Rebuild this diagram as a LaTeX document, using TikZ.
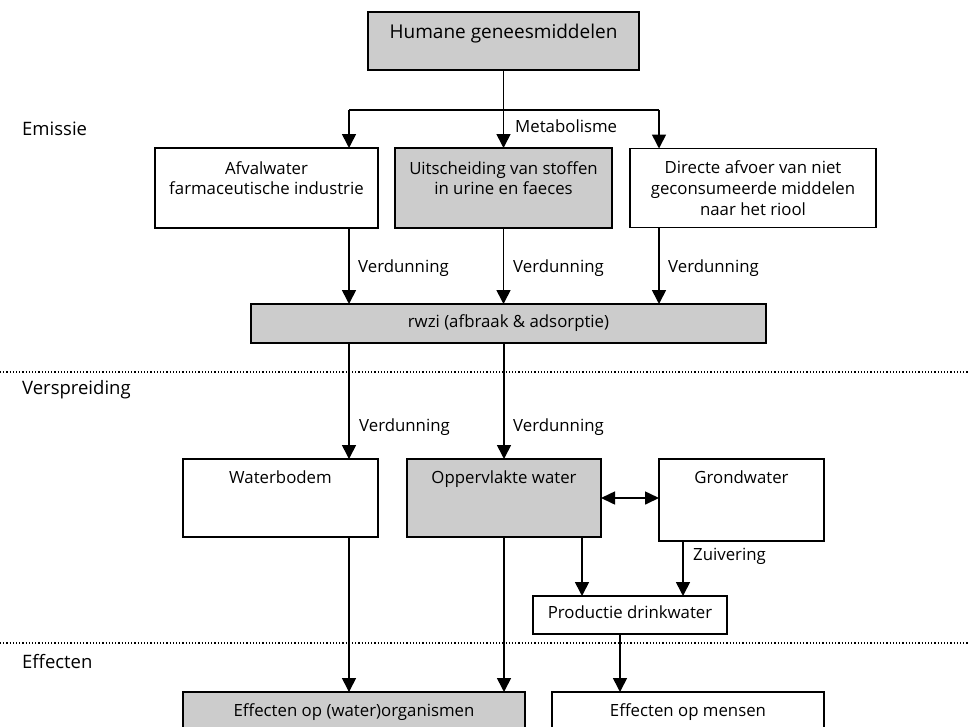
\documentclass[tikz,border=0pt]{standalone}
\usepackage{fontspec}
\setmainfont{Open Sans}
\usetikzlibrary{arrows.meta}
\begin{document}
\begin{tikzpicture}[x=1pt,y=-1pt,
  box/.style={draw=black, line width=1.6pt, inner sep=0pt, outer sep=0pt},
  gbox/.style={box, fill=black!20},
  txt/.style={font=\fontsize{16.8}{20.8}\selectfont, align=center, inner sep=0pt, anchor=north},
  lbl/.style={font=\fontsize{16.8}{19}\selectfont, inner sep=0pt, anchor=west},
  sec/.style={font=\fontsize{18.5}{21}\selectfont, inner sep=0pt, anchor=west},
  ln/.style={line width=1.6pt},
  arr/.style={line width=1.6pt, -{Triangle[length=14pt,width=14pt]}},
  darr/.style={line width=1.6pt, {Triangle[length=14pt,width=13pt]}-{Triangle[length=14pt,width=13pt]}},
  sepline/.style={line width=1.3pt, dash pattern=on 1.2pt off 2pt}
]
\path[use as bounding box, clip] (0,0) rectangle (968,726);
\fill[white] (0,0) rectangle (968,726);

% section separators and titles
\draw[sepline] (0,372) -- (968,372);
\draw[sepline] (0,643) -- (968,643);
\node[sec] (sEm) at (22,129) {Emissie};
\node[sec] (sVe) at (22,390) {Verspreiding};
\node[sec] (sEf) at (22,662) {Effecten};

% boxes
\node[gbox, minimum width=271pt, minimum height=58pt] (hum) at (503.5,41) {};
\node[txt, font=\fontsize{19}{22}\selectfont] (humT) at ([yshift=-12pt]hum.north) {Humane geneesmiddelen};

\node[box, minimum width=223pt, minimum height=80pt] (afv) at (266.5,188) {};
\node[txt] (afvT) at ([yshift=-13pt]afv.north) {Afvalwater\\farmaceutische industrie};

\node[gbox, minimum width=217pt, minimum height=80pt] (uit) at (503.5,188) {};
\node[txt] (uitT) at ([yshift=-13pt]uit.north) {Uitscheiding van stoffen\\in urine en faeces};

\node[box, minimum width=246pt, minimum height=79pt] (dir) at (753,188) {};
\node[txt] (dirT) at ([yshift=-12pt]dir.north) {Directe afvoer van niet\\geconsumeerde middelen\\naar het riool};

\node[gbox, minimum width=515pt, minimum height=39pt] (rwzi) at (508.5,323.5) {};
\node[txt, anchor=center] (rwziT) at (rwzi.center) {rwzi (afbraak \& adsorptie)};

\node[box, minimum width=195pt, minimum height=78pt] (wb) at (280.5,498) {};
\node[txt] (wbT) at ([yshift=-12pt]wb.north) {Waterbodem};

\node[gbox, minimum width=194pt, minimum height=78pt] (ow) at (504,498) {};
\node[txt] (owT) at ([yshift=-12pt]ow.north) {Oppervlakte water};

\node[box, minimum width=165pt, minimum height=82pt] (gw) at (741.5,500) {};
\node[txt] (gwT) at ([yshift=-12pt]gw.north) {Grondwater};

\node[box, minimum width=194pt, minimum height=38pt] (prod) at (630,615) {};
\node[txt, anchor=center] (prodT) at ([yshift=3pt]prod.center) {Productie drinkwater};

\node[gbox, minimum width=342pt, minimum height=68pt] (eorg) at (354,726) {};
\node[txt] (eorgT) at ([yshift=-11pt]eorg.north) {Effecten op (water)organismen};

\node[box, minimum width=272pt, minimum height=68pt] (emen) at (688,726) {};
\node[txt] (emenT) at ([yshift=-11pt]emen.north) {Effecten op mensen};

% columns
\coordinate (cL) at (349,110);
\coordinate (cM) at (504,110);
\coordinate (cR) at (659,110);
\coordinate (cP) at (582,0);
\coordinate (cZ) at (683,0);
\coordinate (cD) at (620,0);

% connectors
\draw[ln] (cL) -- (cR);
\draw[arr] (hum.south) -- (uit.north);
\draw[arr] (cL) -- (cL |- afv.north);
\draw[arr] (cR) -- (cR |- dir.north);
\node[lbl] (lMet) at (515,126) {Metabolisme};

\draw[arr] (cL |- afv.south) -- (cL |- rwzi.north);
\draw[arr] (uit.south) -- (uit.south |- rwzi.north);
\draw[arr] (cR |- dir.south) -- (cR |- rwzi.north);
\node[lbl] (lV1) at (358,268) {Verdunning};
\node[lbl] (lV2) at (513,268) {Verdunning};
\node[lbl] (lV3) at (668,268) {Verdunning};

\draw[arr] (cL |- rwzi.south) -- (cL |- wb.north);
\draw[arr] (cM |- rwzi.south) -- (ow.north);
\node[lbl] (lV4) at (359,427) {Verdunning};
\node[lbl] (lV5) at (513,427) {Verdunning};

\draw[darr] (ow.east) -- (gw.west |- ow.east);
\draw[arr] (cP |- ow.south) -- (cP |- prod.north);
\draw[arr] (cZ |- gw.south) -- (cZ |- prod.north);
\node[lbl] (lZu) at (693,556) {Zuivering};

\draw[arr] (cL |- wb.south) -- (cL |- eorg.north);
\draw[arr] (ow.south) -- (ow.south |- eorg.north);
\draw[arr] (cD |- prod.south) -- (cD |- emen.north);
\end{tikzpicture}
\end{document}
